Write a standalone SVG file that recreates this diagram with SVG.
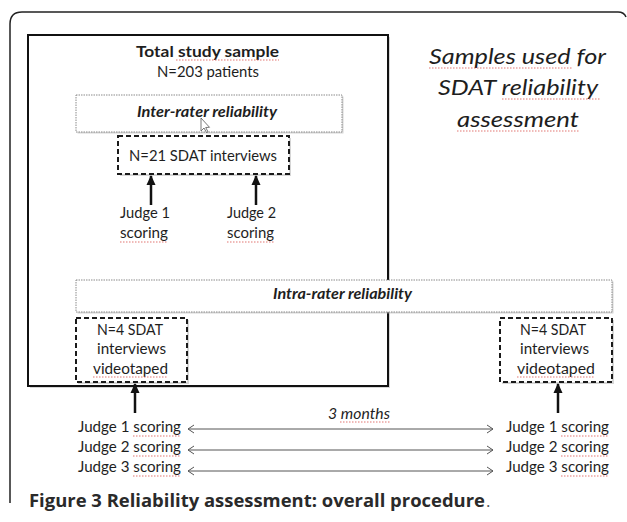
<svg xmlns="http://www.w3.org/2000/svg" width="627" height="522" viewBox="0 0 627 522">
<defs>
<style>
.t{font-family:Lato,"Open Sans","Liberation Sans",sans-serif;font-size:15px;fill:#1e1e1e}
.b{font-weight:bold}
.bi{font-weight:bold;font-style:italic}
.i{font-style:italic}
.big{font-size:21px}
.cap{font-family:"Open Sans","Liberation Sans",sans-serif;font-size:17px;font-weight:bold;fill:#2a2a2a}
.solid{fill:#fff;stroke:#111;stroke-width:2}
.dotted{fill:#fff;stroke:#8a8a8a;stroke-width:1;stroke-dasharray:1.5 1}
.dashed{fill:#fff;stroke:#1a1a1a;stroke-width:2;stroke-dasharray:5 3}
.shadow{fill:#bbb;opacity:0.6}
.thick{stroke:#111;stroke-width:2.5;fill:none}
.thin{stroke:#555;stroke-width:1;fill:none}
.sp{stroke:#d9534f;stroke-width:1;stroke-dasharray:1.5 1.5;fill:none;opacity:0.8}
</style>
<marker id="head" markerWidth="10" markerHeight="10" refX="9" refY="5" orient="auto" markerUnits="userSpaceOnUse" viewBox="0 0 10 10">
<path d="M0,0.5 L10,5 L0,9.5 Z" fill="#111"/>
</marker>
<marker id="chev" markerWidth="8" markerHeight="10" refX="7" refY="5" orient="auto-start-reverse" markerUnits="userSpaceOnUse" viewBox="0 0 8 10">
<path d="M1,1 L7,5 L1,9" fill="none" stroke="#555" stroke-width="1"/>
</marker>
</defs>
<rect width="627" height="522" fill="#fff"/>

<g id="frame">
<path d="M10,503 L10,24 Q10,12 22,12 L618,12 Q624,12 626,17" fill="none" stroke="#222" stroke-width="1.5"/>
</g>

<g id="total-sample">
<rect class="shadow" x="30" y="37" width="360" height="351"/>
<rect class="solid" x="28" y="35" width="360" height="351"/>
<text class="t b" x="207.5" y="57" text-anchor="middle" textLength="143" lengthAdjust="spacingAndGlyphs">Total study sample</text>
<text class="t" x="208" y="77" text-anchor="middle" textLength="102" lengthAdjust="spacingAndGlyphs">N=203 patients</text>
<path class="sp" d="M176,60 H279"/>
</g>

<g id="inter-rater">
<rect class="shadow" x="77.5" y="96.5" width="266" height="37"/>
<rect class="dotted" x="76" y="95" width="266" height="37"/>
<text class="t bi" x="207" y="117" text-anchor="middle" textLength="140" lengthAdjust="spacingAndGlyphs">Inter-rater reliability</text>
<path d="M201,118 L201,131 L204,128 L206.5,132.5 L208,131.8 L205.7,127.5 L209.5,127.3 Z" fill="#fff" stroke="#555" stroke-width="0.8"/>
</g>

<g id="n21">
<rect class="shadow" x="120" y="138" width="171" height="38"/>
<rect class="dashed" x="118" y="136" width="171" height="38"/>
<text class="t" x="203" y="161" text-anchor="middle" textLength="148" lengthAdjust="spacingAndGlyphs">N=21 SDAT interviews</text>
</g>

<g id="judge1-inter">
<text class="t" x="145" y="218" text-anchor="middle" textLength="50" lengthAdjust="spacingAndGlyphs">Judge 1</text>
<text class="t" x="144" y="238" text-anchor="middle" textLength="48" lengthAdjust="spacingAndGlyphs">scoring</text>
<path class="sp" d="M120,242 H168"/>
</g>
<g id="judge2-inter">
<text class="t" x="251.5" y="218" text-anchor="middle" textLength="49" lengthAdjust="spacingAndGlyphs">Judge 2</text>
<text class="t" x="250.5" y="238" text-anchor="middle" textLength="47" lengthAdjust="spacingAndGlyphs">scoring</text>
<path class="sp" d="M227,242 H274"/>
</g>

<g id="samples-title">
<text class="t i big" x="517.5" y="64" text-anchor="middle" textLength="177" lengthAdjust="spacingAndGlyphs">Samples used for</text>
<text class="t i big" x="518" y="95" text-anchor="middle" textLength="160" lengthAdjust="spacingAndGlyphs">SDAT  reliability</text>
<text class="t i big" x="518" y="127" text-anchor="middle" textLength="122" lengthAdjust="spacingAndGlyphs">assessment</text>
<path class="sp" d="M429,68 H573 M502,99 H600 M457,131 H579"/>
</g>

<g id="intra-rater">
<rect class="shadow" x="77.5" y="281.5" width="536" height="32"/>
<rect class="dotted" x="76" y="280" width="536" height="32"/>
<text class="t bi" x="342.5" y="299" text-anchor="middle" textLength="139" lengthAdjust="spacingAndGlyphs">Intra-rater reliability</text>
</g>

<g id="n4-left">
<rect class="shadow" x="78" y="320" width="111" height="64"/>
<rect class="dashed" x="76" y="318" width="111" height="64"/>
<text class="t" x="130" y="335" text-anchor="middle" textLength="66" lengthAdjust="spacingAndGlyphs">N=4 SDAT</text>
<text class="t" x="131.5" y="354" text-anchor="middle" textLength="69" lengthAdjust="spacingAndGlyphs">interviews</text>
<text class="t" x="130.5" y="374" text-anchor="middle" textLength="75" lengthAdjust="spacingAndGlyphs">videotaped</text>
<path class="sp" d="M93,377 H168"/>
</g>

<g id="n4-right">
<rect class="shadow" x="502" y="320" width="112" height="64"/>
<rect class="dashed" x="500" y="318" width="112" height="64"/>
<text class="t" x="553" y="335" text-anchor="middle" textLength="66" lengthAdjust="spacingAndGlyphs">N=4 SDAT</text>
<text class="t" x="554.5" y="354" text-anchor="middle" textLength="69" lengthAdjust="spacingAndGlyphs">interviews</text>
<text class="t" x="556" y="374" text-anchor="middle" textLength="78" lengthAdjust="spacingAndGlyphs">videotaped</text>
<path class="sp" d="M517,377 H595"/>
</g>

<g id="judges-left">
<text class="t" x="78" y="432" textLength="103" lengthAdjust="spacingAndGlyphs">Judge 1 scoring</text>
<text class="t" x="78" y="452" textLength="103" lengthAdjust="spacingAndGlyphs">Judge 2 scoring</text>
<text class="t" x="78" y="472" textLength="103" lengthAdjust="spacingAndGlyphs">Judge 3 scoring</text>
<path class="sp" d="M133,436 H181 M133,456 H181 M133,476 H181"/>
</g>

<g id="judges-right">
<text class="t" x="506" y="432" textLength="103" lengthAdjust="spacingAndGlyphs">Judge 1 scoring</text>
<text class="t" x="506" y="452" textLength="103" lengthAdjust="spacingAndGlyphs">Judge 2 scoring</text>
<text class="t" x="506" y="472" textLength="103" lengthAdjust="spacingAndGlyphs">Judge 3 scoring</text>
<path class="sp" d="M561,436 H609 M561,456 H609 M561,476 H609"/>
</g>

<g id="connectors">
<line class="thick" x1="151" y1="205" x2="151" y2="176" marker-end="url(#head)"/>
<line class="thick" x1="256" y1="205" x2="256" y2="176" marker-end="url(#head)"/>
<line class="thick" x1="135" y1="413" x2="135" y2="384" marker-end="url(#head)"/>
<line class="thick" x1="558" y1="413" x2="558" y2="384" marker-end="url(#head)"/>
<line class="thin" x1="188" y1="429" x2="493" y2="429" marker-start="url(#chev)" marker-end="url(#chev)"/>
<line class="thin" x1="188" y1="450" x2="493" y2="450" marker-start="url(#chev)" marker-end="url(#chev)"/>
<line class="thin" x1="188" y1="471" x2="493" y2="471" marker-start="url(#chev)" marker-end="url(#chev)"/>
<text class="t i" x="359" y="419" text-anchor="middle" textLength="62" lengthAdjust="spacingAndGlyphs">3 months</text>
<path class="sp" d="M340,422 H390"/>
</g>

<g id="caption">
<text class="cap" x="29" y="507" textLength="456" lengthAdjust="spacingAndGlyphs">Figure 3 Reliability assessment: overall procedure</text>
<text class="cap" x="486" y="507" style="font-weight:normal;fill:#555">.</text>
</g>
</svg>
